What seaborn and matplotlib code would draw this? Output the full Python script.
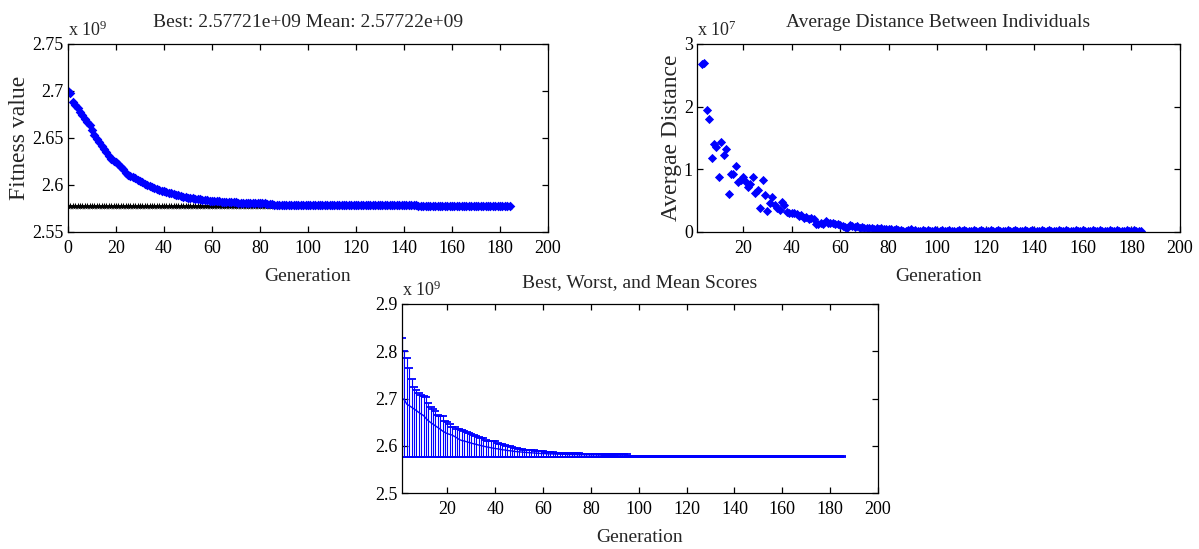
import numpy as np
import matplotlib
matplotlib.use('Agg')
import matplotlib.pyplot as plt
import seaborn as sns
from matplotlib.ticker import FuncFormatter

# GA run: scores are in units of 1e9, distances in units of 1e7
mean_score = [
    2.7000, 2.6975, 2.6880, 2.6850, 2.6815, 2.6780, 2.6745, 2.6705, 2.6670, 2.6640,
    2.6580, 2.6530, 2.6490, 2.6455, 2.6420, 2.6385, 2.6350, 2.6310, 2.6280, 2.6255,
    2.6240, 2.6225, 2.6195, 2.6165, 2.6130, 2.6110, 2.6100, 2.6085, 2.6070, 2.6055,
    2.6040, 2.6030, 2.6015, 2.6005, 2.5990, 2.5980, 2.5970, 2.5960, 2.5950, 2.5940,
    2.5935, 2.5925, 2.5915, 2.5910, 2.5900, 2.5895, 2.5890, 2.5880, 2.5875, 2.5870,
    2.5866, 2.5862, 2.5858, 2.5854, 2.5850, 2.5846, 2.5843, 2.5840, 2.5837, 2.5834,
    2.5832, 2.5830, 2.5828, 2.5826, 2.5824, 2.5822, 2.5820, 2.5818, 2.5817, 2.5815,
    2.5814, 2.5813, 2.5812, 2.5811, 2.5810, 2.5809, 2.5808, 2.5808, 2.5807, 2.5807,
    2.5806, 2.5806, 2.5805, 2.5800, 2.5796, 2.5794, 2.5792, 2.5791, 2.5790, 2.5789,
    2.5789, 2.5788, 2.5788, 2.5787, 2.5787, 2.5787, 2.5786, 2.5786, 2.5786, 2.5786,
    2.5786, 2.5786, 2.5786, 2.5786, 2.5786, 2.5786, 2.5786, 2.5786, 2.5786, 2.5786,
    2.5786, 2.5786, 2.5785, 2.5785, 2.5785, 2.5785, 2.5785, 2.5785, 2.5785, 2.5785,
    2.5785, 2.5785, 2.5785, 2.5785, 2.5785, 2.5785, 2.5785, 2.5785, 2.5785, 2.5785,
    2.5785, 2.5785, 2.5785, 2.5785, 2.5785, 2.5785, 2.5785, 2.5785, 2.5785, 2.5785,
    2.5785, 2.5785, 2.5785, 2.5785, 2.5785, 2.5785, 2.5777, 2.5776, 2.5776, 2.5776,
    2.5776, 2.5776, 2.5776, 2.5776, 2.5776, 2.5776, 2.5776, 2.5776, 2.5776, 2.5776,
    2.5775, 2.5775, 2.5775, 2.5775, 2.5775, 2.5775, 2.5775, 2.5775, 2.5775, 2.5775,
    2.5774, 2.5774, 2.5774, 2.5774, 2.5774, 2.5774, 2.5774, 2.5774, 2.5774, 2.5774,
    2.5773, 2.5773, 2.5773, 2.57722, 2.57722,
]
best_value = 2.57721
best_score = [best_value] * len(mean_score)

# upper end of the bars in the bottom panel (generations 1..185)
worst_score = [
    2.8280, 2.8000, 2.7850, 2.7640, 2.7410, 2.7250, 2.7170, 2.7120, 2.7070, 2.7050,
    2.7030, 2.6900, 2.6830, 2.6780, 2.6740, 2.6650, 2.6630, 2.6620, 2.6530, 2.6500,
    2.6470, 2.6400, 2.6390, 2.6350, 2.6350, 2.6340, 2.6320, 2.6300, 2.6280, 2.6250,
    2.6230, 2.6210, 2.6190, 2.6170, 2.6160, 2.6130, 2.6110, 2.6100, 2.6100, 2.6090,
    2.6060, 2.6030, 2.6030, 2.6020, 2.6000, 2.6000, 2.5980, 2.5950, 2.5950, 2.5940,
    2.5930, 2.5920, 2.5920, 2.5910, 2.5900, 2.5900, 2.5890, 2.5890, 2.5880, 2.5880,
    2.5875, 2.5875, 2.5870, 2.5860, 2.5855, 2.5850, 2.5850, 2.5850, 2.5850, 2.5850,
    2.5850, 2.5850, 2.5850, 2.5850, 2.5850, 2.5830, 2.5830, 2.5830, 2.5830, 2.5830,
    2.5830, 2.5830, 2.5830, 2.5830, 2.5830, 2.5830, 2.5830, 2.5830, 2.5830, 2.5830,
    2.5830, 2.5830, 2.5830, 2.5830, 2.5830, 2.5788, 2.5788, 2.5788, 2.5788, 2.5788,
    2.5788, 2.5788, 2.5788, 2.5788, 2.5788, 2.5788, 2.5788, 2.5788, 2.5788, 2.5788,
    2.5788, 2.5788, 2.5788, 2.5788, 2.5788, 2.5788, 2.5788, 2.5788, 2.5788, 2.5788,
    2.5788, 2.5788, 2.5788, 2.5788, 2.5788, 2.5788, 2.5788, 2.5788, 2.5788, 2.5788,
    2.5788, 2.5788, 2.5788, 2.5788, 2.5788, 2.5788, 2.5788, 2.5788, 2.5788, 2.5788,
    2.5788, 2.5788, 2.5788, 2.5788, 2.5788, 2.5788, 2.5778, 2.5778, 2.5778, 2.5778,
    2.5778, 2.5778, 2.5778, 2.5778, 2.5778, 2.5778, 2.5778, 2.5778, 2.5778, 2.5778,
    2.5778, 2.5778, 2.5778, 2.5778, 2.5778, 2.5778, 2.5778, 2.5778, 2.5778, 2.5778,
    2.5778, 2.5778, 2.5778, 2.5778, 2.5778, 2.5778, 2.5778, 2.5778, 2.5778, 2.5778,
    2.5778, 2.5778, 2.5778, 2.5778, 2.5778,
]

# average distance between individuals, generations 3..185
avg_distance = [
    2.68, 2.70, 1.95, 1.80, 1.18, 1.40, 1.36,
    0.88, 1.43, 1.23, 1.32, 0.61, 0.93, 0.93, 1.06, 0.80, 0.83,
    0.88, 0.80, 0.72, 0.76, 0.88, 0.63, 0.67, 0.38, 0.83, 0.59,
    0.33, 0.46, 0.56, 0.43, 0.38, 0.35, 0.48, 0.43, 0.32, 0.30,
    0.31, 0.30, 0.29, 0.25, 0.27, 0.23, 0.24, 0.21, 0.22, 0.20,
    0.13, 0.12, 0.15, 0.13, 0.17, 0.14, 0.15, 0.14, 0.12, 0.13,
    0.11, 0.10, 0.08, 0.06, 0.11, 0.10, 0.08, 0.09, 0.07, 0.08,
    0.06, 0.07, 0.06, 0.06, 0.05, 0.06, 0.05, 0.06, 0.05, 0.04,
    0.05, 0.04, 0.03, 0.04, 0.03, 0.03, 0.02, 0.02, 0.03, 0.04,
    0.02, 0.03, 0.02, 0.02, 0.03, 0.02, 0.03, 0.02, 0.02, 0.03,
    0.02, 0.02, 0.03, 0.02, 0.02, 0.03, 0.02, 0.02, 0.02, 0.03,
    0.02, 0.03, 0.02, 0.02, 0.02, 0.03, 0.02, 0.02, 0.03, 0.02,
    0.02, 0.02, 0.03, 0.02, 0.02, 0.03, 0.02, 0.02, 0.02, 0.03,
    0.02, 0.02, 0.03, 0.02, 0.02, 0.02, 0.03, 0.02, 0.02, 0.03,
    0.02, 0.02, 0.02, 0.03, 0.02, 0.02, 0.03, 0.02, 0.02, 0.02,
    0.03, 0.02, 0.02, 0.03, 0.02, 0.02, 0.02, 0.03, 0.02, 0.02,
    0.03, 0.02, 0.02, 0.02, 0.03, 0.02, 0.02, 0.03, 0.02, 0.02,
    0.02, 0.03, 0.02, 0.02, 0.03, 0.02, 0.02, 0.02, 0.03, 0.02,
    0.02, 0.03, 0.02, 0.02, 0.02,
]

gen_top = np.arange(0, len(mean_score))
gen_bottom = np.arange(1, len(worst_score) + 1)
gen_dist = np.arange(3, 3 + len(avg_distance))

sns.set_theme(style='ticks')
plt.rcParams['font.family'] = ['Liberation Serif', 'DejaVu Serif']
plt.rcParams['mathtext.fontset'] = 'custom'
plt.rcParams['mathtext.rm'] = 'Liberation Serif'
plt.rcParams['mathtext.it'] = 'Liberation Serif'
plt.rcParams['axes.linewidth'] = 0.9
plt.rcParams['axes.edgecolor'] = 'black'

W, H = 1199, 549
fig = plt.figure(figsize=(11.99, 5.49), dpi=100)
ax1 = fig.add_axes([68 / W, 1 - 232 / H, 480 / W, 188 / H])
ax2 = fig.add_axes([697 / W, 1 - 232 / H, 483 / W, 188 / H])
ax3 = fig.add_axes([402 / W, 1 - 493 / H, 476 / W, 189 / H])

fs = 13
fmt = FuncFormatter(lambda v, p: '%g' % round(v, 4))


def matlab_axes(ax, title, ylabel, power):
    ax.tick_params(direction='in', top=True, right=True, length=4.5, width=0.9,
                   labelsize=fs, colors='black', pad=3)
    ax.tick_params(axis='x', pad=6)
    for sp in ax.spines.values():
        sp.set_visible(True)
        sp.set_color('black')
    ax.set_title(title, fontsize=fs + 1, pad=12)
    ax.set_xlabel('Generation', fontsize=fs + 1, labelpad=8)
    if ylabel:
        ax.set_ylabel(ylabel, fontsize=fs + 4, labelpad=1.5)
    ax.yaxis.set_major_formatter(fmt)
    ax.text(0.0, 1.02, r'x 10$^{%d}$' % power, transform=ax.transAxes,
            fontsize=fs, ha='left', va='bottom')


# top left: best and mean fitness
sns.scatterplot(x=gen_top, y=best_score, ax=ax1, color='black', marker='*',
                s=30, linewidth=0)
sns.scatterplot(x=gen_top, y=mean_score, ax=ax1, color='blue', marker='D',
                s=24, linewidth=0)
ax1.set_xlim(0, 200)
ax1.set_ylim(2.55, 2.75)
ax1.set_xticks(np.arange(0, 201, 20))
ax1.set_yticks([2.55, 2.6, 2.65, 2.7, 2.75])
matlab_axes(ax1, 'Best: 2.57721e+09 Mean: 2.57722e+09', 'Fitness value', 9)

# top right: average distance
sns.scatterplot(x=gen_dist, y=avg_distance, ax=ax2, color='blue', marker='D',
                s=22, linewidth=0)
ax2.set_xlim(1, 200)
ax2.set_ylim(0, 3)
ax2.set_xticks(np.arange(20, 201, 20))
ax2.set_yticks([0, 1, 2, 3])
matlab_axes(ax2, 'Average Distance Between Individuals', 'Avergae Distance', 7)

# bottom: best / worst / mean as error bars
mean_b = np.array(mean_score)
best_b = np.array(best_score)
worst_b = np.array(worst_score)
ax3.errorbar(gen_bottom, mean_b,
             yerr=[np.clip(mean_b - best_b, 0, None), np.clip(worst_b - mean_b, 0, None)],
             fmt='none', ecolor='blue', elinewidth=0.8, capsize=3.0,
             capthick=1.3)
sns.lineplot(x=gen_bottom, y=mean_b, ax=ax3, color='blue', linewidth=1.0)
ax3.set_xlim(1, 200)
ax3.set_ylim(2.5, 2.9)
ax3.set_xticks(np.arange(20, 201, 20))
ax3.set_yticks([2.5, 2.6, 2.7, 2.8, 2.9])
matlab_axes(ax3, 'Best, Worst, and Mean Scores', None, 9)

fig.savefig('out.png', dpi=100)
